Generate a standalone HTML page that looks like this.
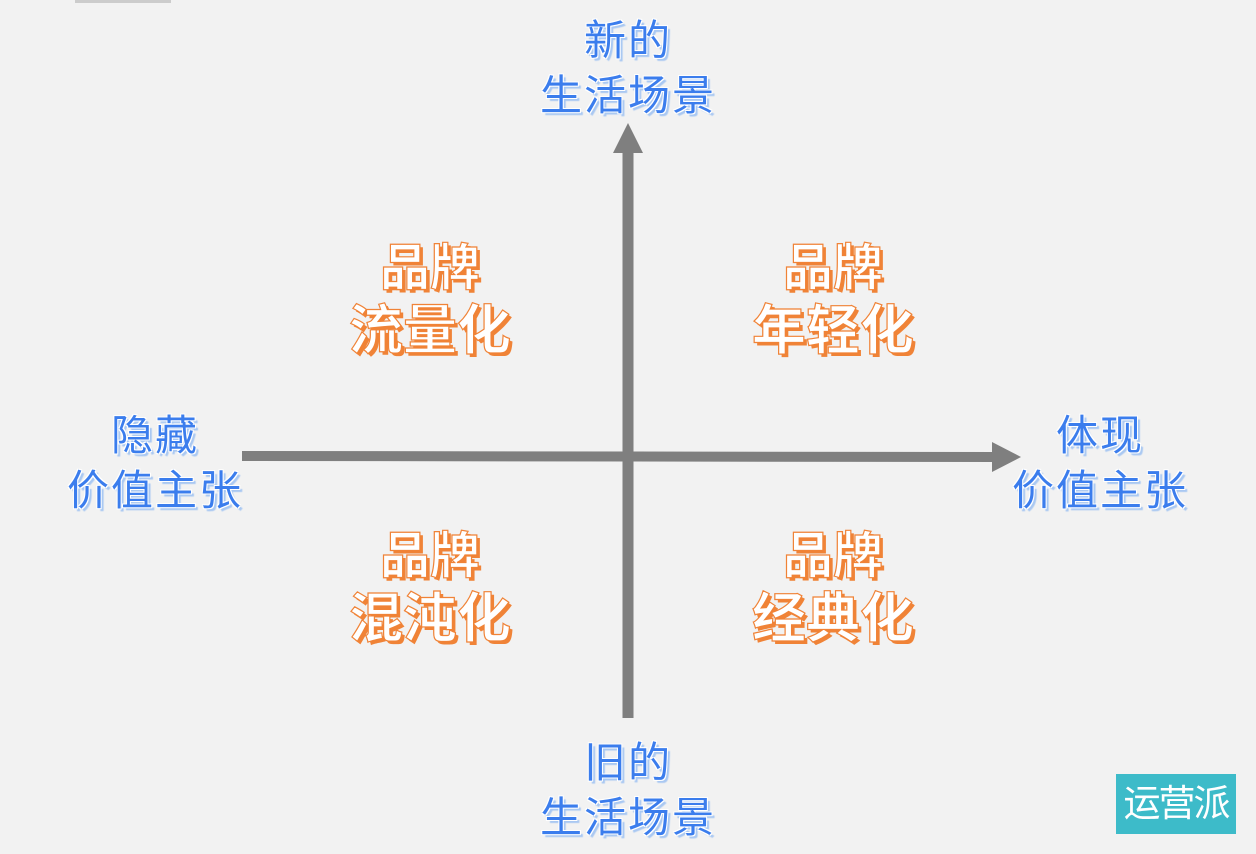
<!DOCTYPE html>
<html><head><meta charset="utf-8"><style>
html,body{margin:0;padding:0}
body{width:1256px;height:854px;background:#f2f2f2;position:relative;overflow:hidden;font-family:"Liberation Sans","Noto Sans CJK SC",sans-serif}
.t{position:absolute;text-align:center;white-space:nowrap;line-height:1}
.b{color:#3b7ded;font-size:42px;letter-spacing:2px;font-weight:400;text-shadow:-1px -1px 0 #fff,1px -1px 0 #fff,-1px 1px 0 #fff,1px 1px 0 #fff,3px 3px 1px #a9c8f2}
.o{color:#fff;font-weight:bold;-webkit-text-stroke:1.2px #f08337;text-shadow:3px 3px 0 #f08337}
.o1{font-size:50px}
.o2{font-size:54px}
</style></head><body>
<div style="position:absolute;left:75px;top:0;width:96px;height:3px;background:#ccc"></div>
<svg width="1256" height="854" style="position:absolute;left:0;top:0">
<line x1="628" y1="150" x2="628" y2="718" stroke="#7f7f7f" stroke-width="11"/>
<polygon points="613,153 643,153 628,123" fill="#7f7f7f"/>
<line x1="242" y1="456" x2="995" y2="457" stroke="#7f7f7f" stroke-width="10"/>
<polygon points="992,442 992,472 1021,457" fill="#7f7f7f"/>
</svg>
<div class="t b" style="left:528px;width:200px;top:20px">新的</div>
<div class="t b" style="left:528px;width:200px;top:75px">生活场景</div>
<div class="t b" style="left:55px;width:200px;top:415px">隐藏</div>
<div class="t b" style="left:55px;width:200px;top:470px">价值主张</div>
<div class="t b" style="left:1000px;width:200px;top:415px">体现</div>
<div class="t b" style="left:1000px;width:200px;top:470px">价值主张</div>
<div class="t b" style="left:528px;width:200px;top:742px">旧的</div>
<div class="t b" style="left:528px;width:200px;top:797px">生活场景</div>
<div class="t o o1" style="left:330px;width:200px;top:243px">品牌</div>
<div class="t o o2" style="left:330px;width:200px;top:304px">流量化</div>
<div class="t o o1" style="left:733px;width:200px;top:243px">品牌</div>
<div class="t o o2" style="left:733px;width:200px;top:304px">年轻化</div>
<div class="t o o1" style="left:330px;width:200px;top:531px">品牌</div>
<div class="t o o2" style="left:330px;width:200px;top:592px">混沌化</div>
<div class="t o o1" style="left:733px;width:200px;top:531px">品牌</div>
<div class="t o o2" style="left:733px;width:200px;top:592px">经典化</div>
<div style="position:absolute;left:1116px;top:774px;width:120px;height:60px;background:#3dbbc9;color:#fff;font-size:37px;line-height:60px;text-align:center;letter-spacing:-2px">运营派</div>
</body></html>
